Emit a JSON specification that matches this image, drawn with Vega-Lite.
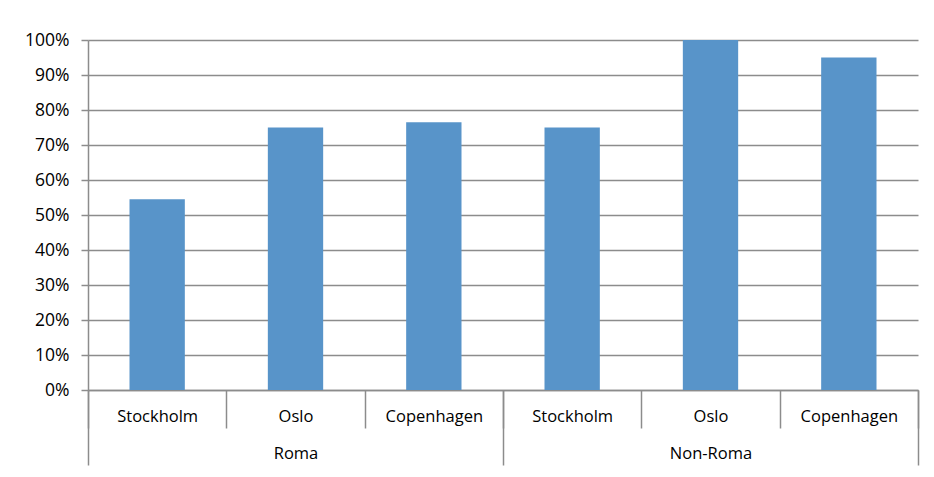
{
  "$schema": "https://vega.github.io/schema/vega-lite/v6.json",
  "width": 830,
  "height": 350,
  "autosize": {"type": "none"},
  "padding": {"left": 88, "top": 40, "right": 16, "bottom": 87},
  "background": "white",
  "config": {
    "view": {"stroke": null},
    "font": "Open Sans",
    "axis": {
      "labelFont": "Open Sans",
      "labelFontSize": 16.5,
      "labelColor": "#000000",
      "domainColor": "#8c8c8c",
      "tickColor": "#8c8c8c",
      "gridColor": "#8c8c8c",
      "domainWidth": 1.5,
      "tickWidth": 1.5,
      "gridWidth": 1.5
    }
  },
  "datasets": {
    "bars": [
      {"group": "Roma", "city": "Stockholm", "key": "Roma|Stockholm", "value": 0.545},
      {"group": "Roma", "city": "Oslo", "key": "Roma|Oslo", "value": 0.75},
      {"group": "Roma", "city": "Copenhagen", "key": "Roma|Copenhagen", "value": 0.765},
      {"group": "Non-Roma", "city": "Stockholm", "key": "Non-Roma|Stockholm", "value": 0.75},
      {"group": "Non-Roma", "city": "Oslo", "key": "Non-Roma|Oslo", "value": 1.0},
      {"group": "Non-Roma", "city": "Copenhagen", "key": "Non-Roma|Copenhagen", "value": 0.95}
    ],
    "groups": [{"group": "Roma"}, {"group": "Non-Roma"}]
  },
  "layer": [
    {
      "data": {"name": "bars"},
      "mark": {"type": "bar", "width": {"band": 0.4}, "color": "#5894C9"},
      "encoding": {
        "x": {
          "field": "key",
          "type": "nominal",
          "sort": null,
          "scale": {"type": "band", "paddingInner": 0, "paddingOuter": 0},
          "axis": {
            "title": null,
            "orient": "bottom",
            "labelAngle": 0,
            "labelExpr": "split(datum.label, '|')[1]",
            "tickBand": "extent",
            "tickSize": 38,
            "labelPadding": -20,
            "grid": false
          }
        },
        "y": {
          "field": "value",
          "type": "quantitative",
          "scale": {"domain": [0, 1]},
          "axis": {
            "title": null,
            "format": ".0%",
            "values": [0, 0.1, 0.2, 0.3, 0.4, 0.5, 0.6, 0.7, 0.8, 0.9, 1],
            "tickSize": 7,
            "labelPadding": 12,
            "labelFontSize": 17.5,
            "grid": true
          }
        }
      }
    },
    {
      "data": {"name": "groups"},
      "mark": {"type": "point", "opacity": 0},
      "encoding": {
        "x": {
          "field": "group",
          "type": "nominal",
          "sort": null,
          "scale": {"type": "band", "paddingInner": 0, "paddingOuter": 0},
          "axis": {
            "title": null,
            "orient": "bottom",
            "labelAngle": 0,
            "tickBand": "extent",
            "tickSize": 75,
            "labelPadding": -20,
            "domain": false,
            "grid": false
          }
        }
      }
    }
  ],
  "resolve": {"scale": {"x": "independent"}, "axis": {"x": "independent"}}
}
